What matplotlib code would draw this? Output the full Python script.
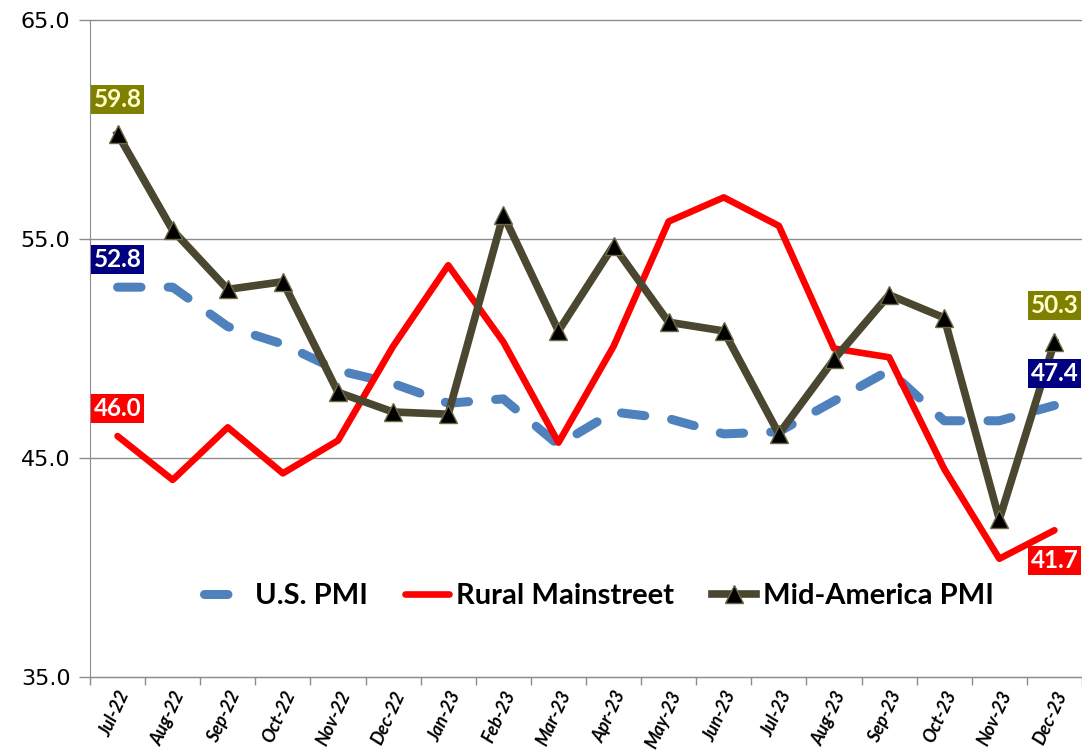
import matplotlib
matplotlib.use("Agg")
import matplotlib.pyplot as plt
import numpy as np

months = ["Jul-22", "Aug-22", "Sep-22", "Oct-22", "Nov-22", "Dec-22", "Jan-23", "Feb-23",
          "Mar-23", "Apr-23", "May-23", "Jun-23", "Jul-23", "Aug-23", "Sep-23", "Oct-23",
          "Nov-23", "Dec-23"]
us_pmi = [52.8, 52.8, 51.0, 50.2, 49.0, 48.4, 47.5, 47.7, 45.6, 47.1, 46.8, 46.1,
          46.2, 47.6, 49.0, 46.7, 46.7, 47.4]
rural = [46.0, 44.0, 46.4, 44.3, 45.8, 50.1, 53.8, 50.3, 45.7, 50.1, 55.8, 56.9,
         55.6, 50.0, 49.6, 44.5, 40.4, 41.7]
mid_america = [59.8, 55.4, 52.7, 53.05, 48.0, 47.1, 47.0, 56.1, 50.8, 54.7, 51.2, 50.8,
               46.1, 49.5, 52.45, 51.4, 42.2, 50.3]
y_ticks = [35.0, 45.0, 55.0, 65.0]

fig = plt.figure(figsize=(10.82, 7.5), dpi=100)
ax = fig.add_axes([90/1082, 1-677/750, 1-90/1082, (677-20)/750])

x = np.arange(len(months))
ax.set_xlim(-0.5, len(months)-0.5)
ax.set_ylim(35, 65)

for yv in y_ticks:
    ax.axhline(yv, color="#8c8c8c", lw=1.0, zorder=1, clip_on=False)

l1, = ax.plot(x, us_pmi, color="#4F81BD", lw=6.5, dashes=(2.6, 3.0),
              dash_capstyle="round", solid_joinstyle="round", zorder=3, label="U.S. PMI")
l2, = ax.plot(x, rural, color="#FF0000", lw=4.8, solid_joinstyle="round",
              solid_capstyle="round", zorder=4, label="Rural Mainstreet")
l3, = ax.plot(x, mid_america, color="#4A462F", lw=5.5, marker="^", markersize=13,
              markerfacecolor="black", markeredgecolor="#6b6a45", markeredgewidth=1,
              zorder=5, label="Mid-America PMI")

def label(xi, yi, text, fc, tc, dy):
    ax.annotate(text, (xi, yi), xytext=(0, dy), textcoords="offset points",
                ha="center", va="center", fontsize=17.5, fontweight="bold",
                family=["Lato", "DejaVu Sans"], color=tc, zorder=10,
                annotation_clip=False,
                bbox=dict(boxstyle="square,pad=0.12", fc=fc, ec="none"))

last = len(months) - 1
label(0, mid_america[0], f"{mid_america[0]:.1f}", "#808000", "#FFFFCC", 25)
label(0, us_pmi[0], f"{us_pmi[0]:.1f}", "#000080", "white", 20)
label(0, rural[0], f"{rural[0]:.1f}", "#FF0000", "white", 20)
label(last, mid_america[last], f"{mid_america[last]:.1f}", "#808000", "#FFFFCC", 26)
label(last, us_pmi[last], f"{us_pmi[last]:.1f}", "#000080", "white", 23)
label(last, rural[last], f"{rural[last]:.1f}", "#FF0000", "white", -22)

ax.set_yticks(y_ticks)
ax.set_yticklabels([f"{v:.1f}" for v in y_ticks], fontsize=16, family="DejaVu Sans")
ax.tick_params(axis="y", length=8, color="#8c8c8c", width=1, pad=6)

ax.set_xticks(np.arange(len(months)+1) - 0.5, minor=False)
ax.set_xticklabels([])
ax.set_xticks(x, minor=True)
ax.set_xticklabels(months, minor=True, rotation=65, ha="right", rotation_mode="anchor",
                   fontsize=13, fontweight="bold", style="italic",
                   family=["Lato", "DejaVu Sans"])
ax.tick_params(axis="x", which="major", length=6, color="#8c8c8c", width=1)
ax.tick_params(axis="x", which="minor", length=0, pad=8)

for s in ["top", "right"]:
    ax.spines[s].set_visible(False)
ax.spines["left"].set_color("#8c8c8c")
ax.spines["bottom"].set_color("#8c8c8c")

leg = ax.legend(handles=[l1, l2, l3], loc="center", bbox_to_anchor=(0.513, 0.1233),
                ncol=3, frameon=False, prop=dict(family=["Lato", "DejaVu Sans"],
                weight="bold", size=21), handlelength=1.5, handletextpad=0.25,
                columnspacing=1.3)

fig.savefig("out.png", dpi=100)
